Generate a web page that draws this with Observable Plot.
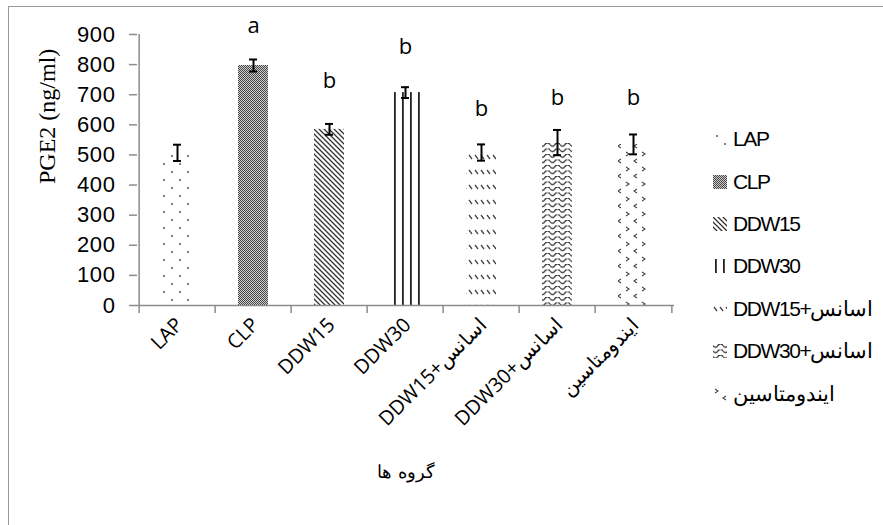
<!DOCTYPE html>
<html>
<head>
<meta charset="utf-8">
<script src="https://cdn.jsdelivr.net/npm/d3@7"></script>
<script src="https://cdn.jsdelivr.net/npm/@observablehq/plot@0.6"></script>
<style>
  html, body { margin: 0; padding: 0; background: #fff; }
  #wrap { position: relative; width: 883px; height: 525px; overflow: hidden; }
  #border { position: absolute; left: 8px; top: 6px; width: 900px; height: 560px; border: 1.5px solid #9a9a9a; box-sizing: border-box; }
  #legend { position: absolute; left: 713px; top: 0; font-family: "Liberation Sans", Arial, sans-serif; font-size: 21px; letter-spacing: -1.4px; color: #000; }
  .item { position: absolute; left: 0; white-space: nowrap; display: flex; align-items: center; height: 24px; }
  .item svg { margin-right: 6px; }
</style>
</head>
<body>
<div id="wrap">
  <div id="border"></div>
  <div id="chart"></div>
  <div id="legend"></div>
</div>
<script>
// ---- data ----
const categories = ["LAP", "CLP", "DDW15", "DDW30", "DDW15+اسانس", "DDW30+اسانس", "ایندومتاسین"];
const means = [507, 797, 585, 707, 508, 541, 535];
const errors = [27, 20, 18, 18, 27, 42, 33];
const letters = ["", "a", "b", "b", "b", "b", "b"];
const letterY = [null, 927, 747, 857, 654, 688, 688];
const yTicks = [0, 100, 200, 300, 400, 500, 600, 700, 800, 900];
const patternIds = ["pLAP", "pCLP", "pD15", "pD30", "pD15e", "pD30e", "pInd"];
const yLabel = "PGE2 (ng/ml)";
const xLabel = "گروه ها";

const rows = categories.map((c, i) => ({
  cat: c, mean: means[i], lo: means[i] - errors[i], hi: means[i] + errors[i],
  letter: letters[i], ly: letterY[i], fill: `url(#${patternIds[i]})`
}));

const step = (883 - 137 - 209) / categories.length;

const plot = Plot.plot({
  width: 883,
  height: 525,
  marginLeft: 137,
  marginRight: 209,
  marginTop: 34,
  marginBottom: 220,
  style: { overflow: "visible", background: "transparent", fontFamily: "Open Sans, sans-serif" },
  x: { domain: categories, paddingInner: 0.6, paddingOuter: 0.3, axis: null },
  y: { domain: [0, 900], axis: null },
  color: { type: "identity" },
  marks: [
    Plot.barY(rows, { x: "cat", y: "mean", fill: "fill" }),
    Plot.ruleY([0], { stroke: "#8c8c8c", strokeWidth: 1.5 }),
    Plot.ruleX([categories[0]], { dx: -step / 2, y1: 0, y2: 900, stroke: "#8c8c8c", strokeWidth: 1.5 }),
    Plot.axisY({ ticks: yTicks, tickSize: 8, tickFormat: () => "", stroke: "#8c8c8c", strokeWidth: 1.5 }),
    Plot.axisY({ ticks: yTicks, tickSize: 0, tickPadding: 22, fill: "#000", label: null }),
    Plot.axisX({ tickSize: 8, tickFormat: () => "", dx: -step / 2, stroke: "#8c8c8c", strokeWidth: 1.5, label: null }),
    Plot.axisX({ ticks: [categories[categories.length - 1]], tickSize: 8, tickFormat: () => "", dx: step / 2, stroke: "#8c8c8c", strokeWidth: 1.5, label: null }),
    Plot.axisX({ tickSize: 0, tickRotate: -45, tickPadding: 16, dx: 2, fill: "#000", label: null }),
    Plot.ruleX(rows, { x: "cat", y1: "lo", y2: "hi", stroke: "#000", strokeWidth: 2 }),
    Plot.tickY(rows, { x: "cat", y: "lo", stroke: "#000", strokeWidth: 2, insetLeft: 11, insetRight: 11 }),
    Plot.tickY(rows, { x: "cat", y: "hi", stroke: "#000", strokeWidth: 2, insetLeft: 11, insetRight: 11 }),
    Plot.text(rows.filter(d => d.letter), { x: "cat", y: "ly", text: "letter", fontSize: 22, fontFamily: "Open Sans, sans-serif", fill: "#000" }),
    Plot.text([yLabel], { frameAnchor: "left", rotate: -90, dx: -90, dy: 14, fontSize: 24, fontFamily: "Liberation Serif, Times New Roman, serif", fill: "#000" }),
    Plot.text([xLabel], { frameAnchor: "bottom", dy: 172, fontSize: 18, fontFamily: "DejaVu Serif, Liberation Serif, serif", fill: "#000" })
  ]
});

// font sizes of axis tick labels (inline style)
plot.querySelectorAll("text").forEach(t => {
  const s = t.textContent;
  if (/^\d+$/.test(s)) {
    t.style.fontSize = "22px";
    t.style.letterSpacing = "0.6px";
    t.style.fontFamily = "Liberation Sans, Arial, sans-serif";
  } else if (categories.includes(s)) {
    t.style.fontSize = "20px";
    t.style.fontFamily = "Open Sans, sans-serif";
  }
});

const defs = `
<defs>
  <pattern id="pLAP" patternUnits="userSpaceOnUse" width="16" height="16">
    <circle cx="4" cy="4" r="0.9" fill="#444"/><circle cx="12" cy="12" r="0.9" fill="#444"/>
  </pattern>
  <pattern id="pCLP" patternUnits="userSpaceOnUse" width="2" height="2">
    <rect width="2" height="2" fill="#d0d0d0"/><rect width="1" height="1" fill="#444"/><rect x="1" y="1" width="1" height="1" fill="#444"/>
  </pattern>
  <pattern id="pD15" patternUnits="userSpaceOnUse" width="5" height="5">
    <path d="M0,0L5,5M-1,4L1,6M4,-1L6,1" stroke="#333" stroke-width="1.3"/>
  </pattern>
  <pattern id="pD30" patternUnits="userSpaceOnUse" width="8" height="8">
    <rect x="2" y="0" width="1.8" height="8" fill="#222"/>
  </pattern>
  <pattern id="pD15e" patternUnits="userSpaceOnUse" width="6" height="15">
    <path d="M1,5L4,9" stroke="#444" stroke-width="1.3"/>
  </pattern>
  <pattern id="pD30e" patternUnits="userSpaceOnUse" width="10" height="5.5">
    <path d="M0,1.5Q2.5,5 5,1.5T10,1.5" fill="none" stroke="#333" stroke-width="1.3"/>
  </pattern>
  <pattern id="pInd" patternUnits="userSpaceOnUse" width="16" height="15">
    <path d="M2,2L5,4L2,6" fill="none" stroke="#444" stroke-width="1.1"/>
    <path d="M13,9L10,11L13,13" fill="none" stroke="#444" stroke-width="1.1"/>
  </pattern>
</defs>`;
plot.insertAdjacentHTML("afterbegin", defs);
document.getElementById("chart").appendChild(plot);

const legendTop = [127, 170, 212, 254, 297, 339, 382];
const legend = document.getElementById("legend");
categories.forEach((c, i) => {
  const div = document.createElement("div");
  div.className = "item";
  div.style.top = legendTop[i] + "px";
  div.innerHTML = `<svg width="14" height="14"><rect width="14" height="14" fill="url(#${patternIds[i]})"/></svg><span dir="ltr">${c}</span>`;
  legend.appendChild(div);
});
</script>
</body>
</html>
